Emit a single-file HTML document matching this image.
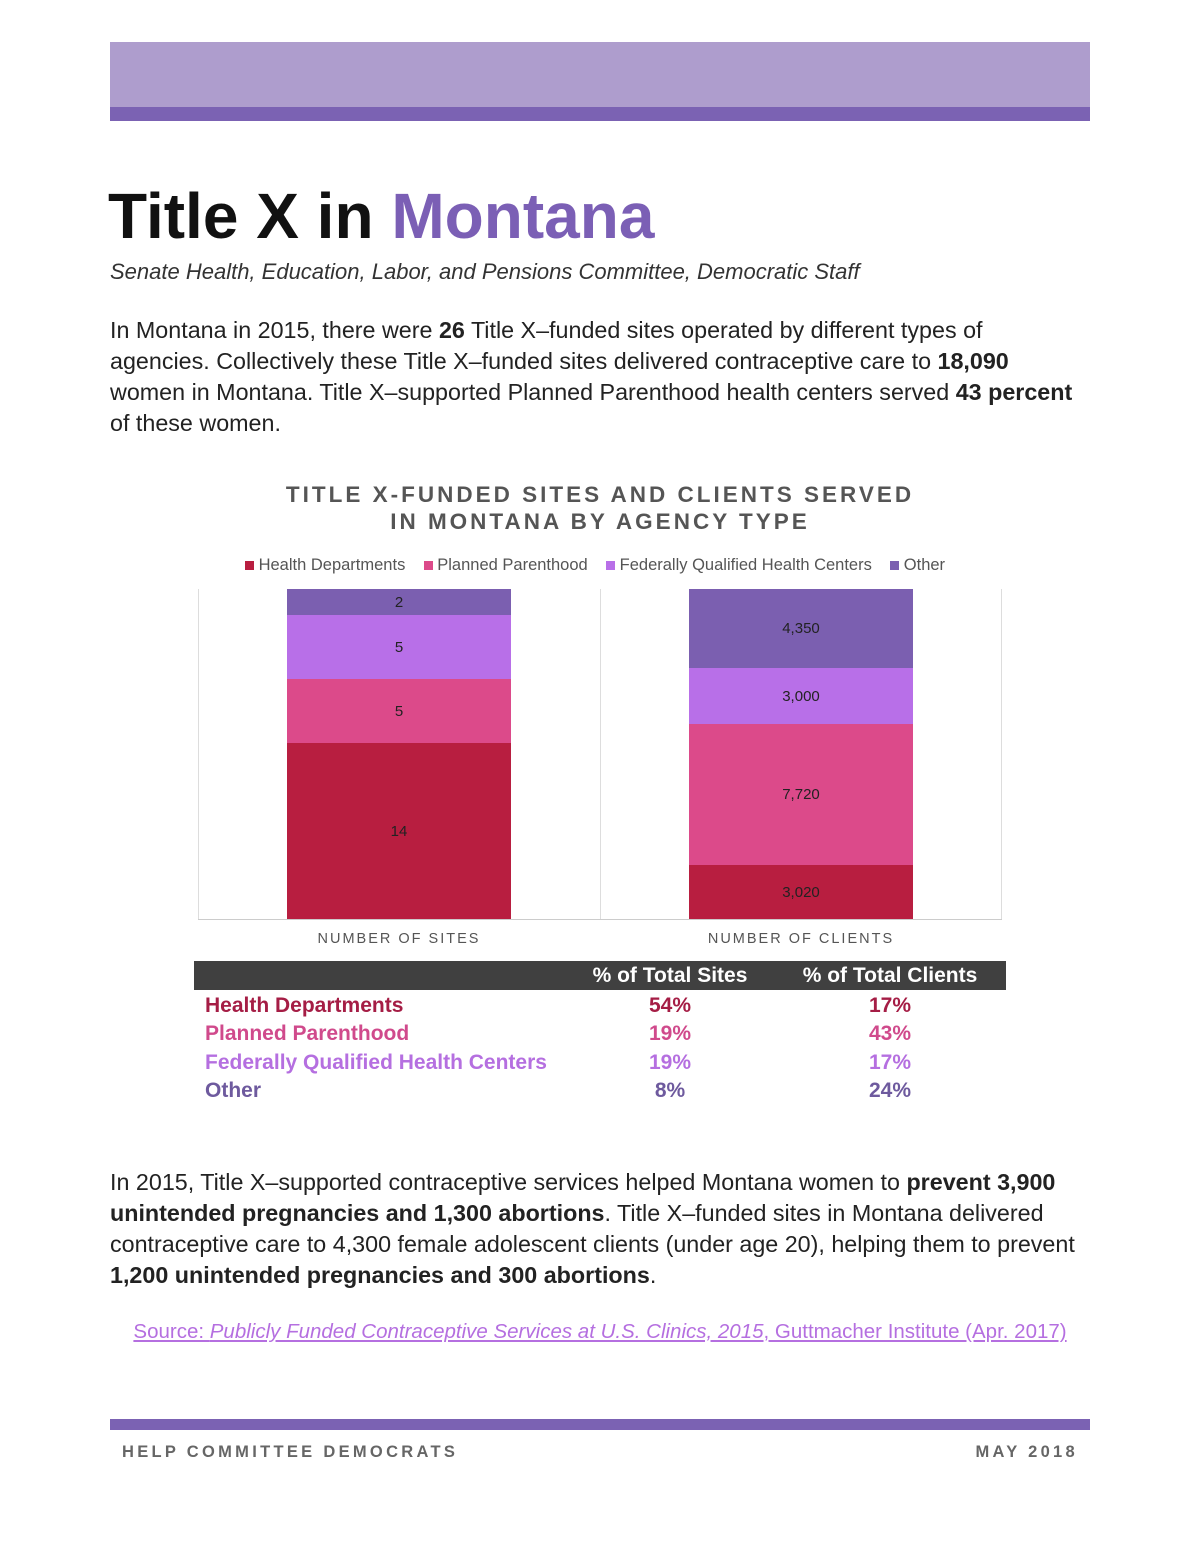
<!DOCTYPE html>
<html><head><meta charset="utf-8"><style>
body{margin:0;width:1200px;height:1554px;background:#fff;position:relative;font-family:"Liberation Sans",sans-serif;overflow:hidden}
.a{position:absolute;white-space:nowrap}
.p{font-size:23.3px;color:#222;line-height:31px}
.seg{position:absolute;display:flex;align-items:center;justify-content:center;font-size:15px;color:#222}
.t{font-weight:bold;font-size:21px}
</style></head><body>
<div class="a" style="left:110px;top:42px;width:980px;height:65px;background:#ae9dcd"></div>
<div class="a" style="left:110px;top:107px;width:980px;height:14px;background:#7b62b3"></div>
<div class="a" style="left:108px;top:179px;font-size:64px;font-weight:bold;color:#111">Title X in <span style="color:#7b5fb5">Montana</span></div>
<div class="a" style="left:110px;top:259px;font-size:22px;font-style:italic;color:#333">Senate Health, Education, Labor, and Pensions Committee, Democratic Staff</div>
<div class="a p" style="left:110px;top:315px">In Montana in 2015, there were <b>26</b> Title X–funded sites operated by different types of<br>agencies. Collectively these Title X–funded sites delivered contraceptive care to <b>18,090</b><br>women in Montana. Title X–supported Planned Parenthood health centers served <b>43 percent</b><br>of these women.</div>
<div class="a" style="left:0;width:1200px;top:481px;text-align:center;font-size:22.5px;font-weight:bold;color:#555;letter-spacing:3px;line-height:27px">TITLE X-FUNDED SITES AND CLIENTS SERVED<br>IN MONTANA BY AGENCY TYPE</div>
<div class="a" style="left:245px;top:556px;font-size:16.5px;color:#555">
<span style="display:inline-block;width:9px;height:9px;background:#b81e40"></span> Health Departments &nbsp;&nbsp;
<span style="display:inline-block;width:9px;height:9px;background:#dc4a8a"></span> Planned Parenthood &nbsp;&nbsp;
<span style="display:inline-block;width:9px;height:9px;background:#b86fe8"></span> Federally Qualified Health Centers &nbsp;&nbsp;
<span style="display:inline-block;width:9px;height:9px;background:#7b5fb0"></span> Other</div>
<div class="a" style="left:198px;top:589px;width:1px;height:330px;background:#ddd"></div>
<div class="a" style="left:600px;top:589px;width:1px;height:330px;background:#ddd"></div>
<div class="a" style="left:1001px;top:589px;width:1px;height:330px;background:#ddd"></div>
<div class="seg" style="left:287px;width:224px;top:589px;height:26px;background:#7b5fb0">2</div>
<div class="seg" style="left:287px;width:224px;top:615px;height:64px;background:#b86fe8">5</div>
<div class="seg" style="left:287px;width:224px;top:679px;height:64px;background:#dc4a8a">5</div>
<div class="seg" style="left:287px;width:224px;top:743px;height:176px;background:#b81e40">14</div>
<div class="seg" style="left:689px;width:224px;top:589px;height:79px;background:#7b5fb0">4,350</div>
<div class="seg" style="left:689px;width:224px;top:668px;height:56px;background:#b86fe8">3,000</div>
<div class="seg" style="left:689px;width:224px;top:724px;height:141px;background:#dc4a8a">7,720</div>
<div class="seg" style="left:689px;width:224px;top:865px;height:54px;background:#b81e40">3,020</div>
<div class="a" style="left:198px;top:919px;width:804px;height:1px;background:#ccc"></div>
<div class="a" style="left:287px;width:224px;top:931px;text-align:center;font-size:14.5px;color:#555;letter-spacing:2px">NUMBER OF SITES</div>
<div class="a" style="left:689px;width:224px;top:931px;text-align:center;font-size:14.5px;color:#555;letter-spacing:2px">NUMBER OF CLIENTS</div>
<div class="a" style="left:194px;top:961px;width:812px;height:29px;background:#404040"></div>
<div class="a t" style="left:560px;width:220px;top:964px;text-align:center;color:#fff">% of Total Sites</div>
<div class="a t" style="left:780px;width:220px;top:964px;text-align:center;color:#fff">% of Total Clients</div>
<div class="a t" style="left:205px;top:994px;color:#a51d45">Health Departments</div>
<div class="a t" style="left:560px;width:220px;top:994px;text-align:center;color:#a51d45">54%</div>
<div class="a t" style="left:780px;width:220px;top:994px;text-align:center;color:#a51d45">17%</div>
<div class="a t" style="left:205px;top:1022px;color:#d04a8c">Planned Parenthood</div>
<div class="a t" style="left:560px;width:220px;top:1022px;text-align:center;color:#d04a8c">19%</div>
<div class="a t" style="left:780px;width:220px;top:1022px;text-align:center;color:#d04a8c">43%</div>
<div class="a t" style="left:205px;top:1051px;color:#b56fe0">Federally Qualified Health Centers</div>
<div class="a t" style="left:560px;width:220px;top:1051px;text-align:center;color:#b56fe0">19%</div>
<div class="a t" style="left:780px;width:220px;top:1051px;text-align:center;color:#b56fe0">17%</div>
<div class="a t" style="left:205px;top:1079px;color:#6e5a9e">Other</div>
<div class="a t" style="left:560px;width:220px;top:1079px;text-align:center;color:#6e5a9e">8%</div>
<div class="a t" style="left:780px;width:220px;top:1079px;text-align:center;color:#6e5a9e">24%</div>
<div class="a p" style="left:110px;top:1167px">In 2015, Title X–supported contraceptive services helped Montana women to <b>prevent 3,900</b><br><b>unintended pregnancies and 1,300 abortions</b>. Title X–funded sites in Montana delivered<br>contraceptive care to 4,300 female adolescent clients (under age 20), helping them to prevent<br><b>1,200 unintended pregnancies and 300 abortions</b>.</div>
<div class="a" style="left:0;width:1200px;top:1320px;text-align:center;font-size:20.5px;color:#b56fe0;text-decoration:underline">Source: <i>Publicly Funded Contraceptive Services at U.S. Clinics, 2015</i>, Guttmacher Institute (Apr. 2017)</div>
<div class="a" style="left:110px;top:1419px;width:980px;height:11px;background:#7b62b3"></div>
<div class="a" style="left:122px;top:1443px;font-size:16.5px;font-weight:bold;color:#666;letter-spacing:3.3px">HELP COMMITTEE DEMOCRATS</div>
<div class="a" style="right:122px;top:1443px;font-size:16.5px;font-weight:bold;color:#666;letter-spacing:3.3px">MAY 2018</div>
</body></html>
